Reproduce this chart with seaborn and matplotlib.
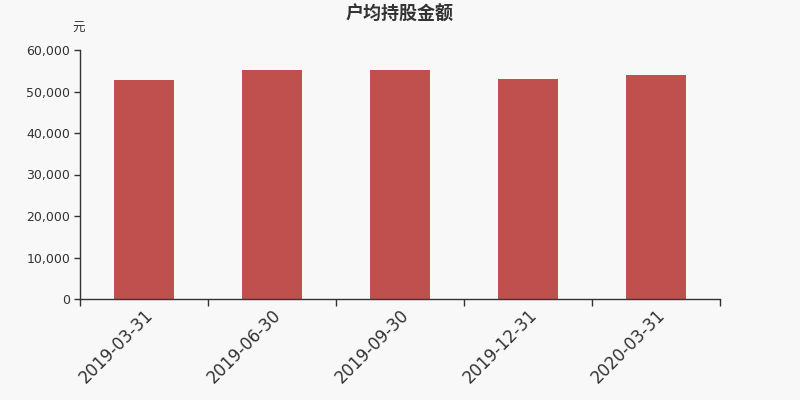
import matplotlib
matplotlib.use("Agg")
import matplotlib.pyplot as plt
import seaborn as sns
import pandas as pd
from matplotlib.ticker import FuncFormatter

# data
dates = ['2019-03-31', '2019-06-30', '2019-09-30', '2019-12-31', '2020-03-31']
amounts = [52800, 55200, 55200, 53000, 53900]

df = pd.DataFrame({'date': dates, 'amount': amounts})

sns.set_theme(style="white")
plt.rcParams['font.family'] = ['DejaVu Sans', 'Noto Sans CJK SC']

bg = '#f8f8f8'
fig = plt.figure(figsize=(8, 4), dpi=100, facecolor=bg)
ax = fig.add_axes([0.1, 0.2525, 0.8, 0.6225])
ax.set_facecolor(bg)

sns.barplot(data=df, x='date', y='amount', color='#c0504d', saturation=1,
            width=0.47, edgecolor='none', ax=ax)

ax.set_xlim(-0.5, len(dates) - 0.5)
ax.set_ylim(0, 60000)
ax.set_yticks(range(0, 60001, 10000))
ax.yaxis.set_major_formatter(FuncFormatter(lambda v, p: f"{int(v):,}"))
ax.tick_params(axis='y', labelsize=9, colors='#333333', length=4, width=1,
               left=True, direction='out', pad=3)

# tick marks at category boundaries, labels at centers
ax.set_xticks([i - 0.5 for i in range(len(dates) + 1)], minor=True)
ax.tick_params(axis='x', which='minor', length=5, width=1, color='#333333',
               bottom=True, direction='out')
ax.tick_params(axis='x', which='major', length=0, labelsize=12,
               colors='#333333', pad=5)
plt.setp(ax.get_xticklabels(), rotation=45, ha='right', rotation_mode='anchor')

ax.set_xlabel('')
ax.set_ylabel('')
for s in ['top', 'right']:
    ax.spines[s].set_visible(False)
for s in ['left', 'bottom']:
    ax.spines[s].set_color('#333333')
    ax.spines[s].set_linewidth(1)
ax.grid(False)

fig.text(0.5, 0.965, '户均持股金额', ha='center', va='center', fontsize=13,
         fontweight='bold', color='#333333', family=['Noto Sans CJK SC'])
fig.text(0.098, 0.928, '元', ha='center', va='center', fontsize=9,
         color='#333333', family=['Noto Sans CJK SC'])

fig.savefig('out.png', dpi=100, facecolor=bg)
